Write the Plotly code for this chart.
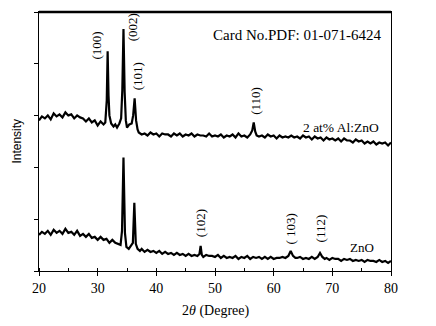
import plotly.graph_objects as go

# ---- data (2theta in degrees, intensity in arbitrary units) ----
al_2theta = [20.0, 20.5, 21.0, 21.5, 22.0, 22.5, 23.0, 23.5, 24.0, 24.5, 25.0, 25.5, 26.0, 26.5,
             27.0, 27.5, 28.0, 28.5, 29.0, 29.5, 30.0, 30.5, 31.0, 31.3, 31.55, 31.7, 31.85, 32.0,
             32.3, 32.7, 33.0, 33.3, 33.7, 34.0, 34.2, 34.4, 34.6, 34.8, 35.0, 35.4, 35.8, 36.05,
             36.3, 36.55, 36.8, 37.0, 37.5, 38.0, 38.5, 39.0, 39.5, 40.0, 40.5, 41.0, 41.5, 42.0,
             42.5, 43.0, 43.5, 44.0, 44.5, 45.0, 45.5, 46.0, 46.5, 47.0, 47.5, 48.0, 48.5, 49.0,
             49.5, 50.0, 50.5, 51.0, 51.5, 52.0, 52.5, 53.0, 53.5, 54.0, 54.5, 55.0, 55.5, 56.0,
             56.35, 56.6, 56.85, 57.1, 57.5, 58.0, 58.5, 59.0, 59.5, 60.0, 60.5, 61.0, 61.5, 62.0,
             62.5, 63.0, 63.5, 64.0, 64.5, 65.0, 65.5, 66.0, 66.5, 67.0, 67.5, 68.0, 68.5, 69.0,
             69.5, 70.0, 70.5, 71.0, 71.5, 72.0, 72.5, 73.0, 73.5, 74.0, 74.5, 75.0, 75.5, 76.0,
             76.5, 77.0, 77.5, 78.0, 78.5, 79.0, 79.5, 80.0]
al_intensity = [150, 154, 152, 155, 151, 157, 154, 156, 153, 158, 155, 156, 152, 155,
                153, 152, 149, 152, 148, 150, 145, 149, 146, 148, 170, 219, 175, 155,
                147, 144, 146, 143, 147, 152, 180, 241, 178, 150, 143, 146, 147, 155,
                172, 150, 141, 138, 136, 137, 135, 138, 136, 137, 134, 137, 136, 136,
                134, 137, 135, 137, 134, 136, 135, 137, 134, 136, 135, 135, 134, 137,
                134, 135, 134, 136, 133, 135, 134, 136, 133, 137, 134, 135, 133, 136,
                140, 148, 139, 135, 134, 135, 133, 136, 134, 135, 132, 135, 133, 134,
                133, 135, 133, 134, 132, 135, 133, 134, 131, 134, 132, 133, 130, 133,
                131, 132, 130, 132, 129, 132, 130, 130, 128, 131, 129, 130, 127, 129,
                127, 129, 126, 128, 127, 128, 125, 128]

zno_2theta = [20.0, 20.5, 21.0, 21.5, 22.0, 22.5, 23.0, 23.5, 24.0, 24.5, 25.0, 25.5, 26.0, 26.5,
              27.0, 27.5, 28.0, 28.5, 29.0, 29.5, 30.0, 30.5, 31.0, 31.5, 32.0, 32.5, 33.0, 33.5,
              33.9, 34.15, 34.4, 34.65, 34.9, 35.3, 35.7, 36.0, 36.25, 36.5, 36.8, 37.2, 37.5, 38.0,
              38.5, 39.0, 39.5, 40.0, 40.5, 41.0, 41.5, 42.0, 42.5, 43.0, 43.5, 44.0, 44.5, 45.0,
              45.5, 46.0, 46.5, 47.0, 47.35, 47.55, 47.75, 48.0, 48.5, 49.0, 49.5, 50.0, 50.5, 51.0,
              51.5, 52.0, 52.5, 53.0, 53.5, 54.0, 54.5, 55.0, 55.5, 56.0, 56.5, 57.0, 57.5, 58.0,
              58.5, 59.0, 59.5, 60.0, 60.5, 61.0, 61.5, 62.0, 62.5, 62.9, 63.3, 63.7, 64.0, 64.5,
              65.0, 65.5, 66.0, 66.5, 67.0, 67.5, 67.9, 68.3, 68.7, 69.0, 69.5, 70.0, 70.5, 71.0,
              71.5, 72.0, 72.5, 73.0, 73.5, 74.0, 74.5, 75.0, 75.5, 76.0, 76.5, 77.0, 77.5, 78.0,
              78.5, 79.0, 79.5, 80.0]
zno_intensity = [36, 39, 37, 40, 36, 41, 38, 40, 37, 42, 38, 39, 36, 40,
                 35, 37, 34, 37, 33, 34, 31, 34, 31, 32, 28, 31, 28, 27,
                 26, 40, 113, 38, 24, 22, 25, 28, 68, 27, 22, 20, 22, 19,
                 21, 19, 20, 18, 20, 17, 19, 17, 18, 16, 18, 16, 17, 15,
                 17, 15, 16, 15, 17, 25, 16, 14, 16, 15, 15, 14, 16, 13,
                 15, 13, 14, 13, 15, 12, 14, 13, 15, 12, 14, 13, 14, 12,
                 14, 12, 14, 12, 13, 13, 14, 13, 15, 20, 15, 13, 13, 14,
                 12, 13, 12, 14, 12, 14, 18, 14, 12, 13, 11, 13, 12, 12,
                 10, 12, 11, 12, 10, 11, 10, 11, 9, 11, 10, 10, 9, 11,
                 9, 10, 8, 10]

peak_labels = ["(100)", "(002)", "(101)", "(110)", "(102)", "( 103)", "(112)"]
peak_label_x = [29.8, 35.9, 36.7, 56.9, 47.5, 62.9, 68.0]
peak_label_y = [225, 243, 194, 170, 48, 42, 42]

x_ticks = [20, 30, 40, 50, 60, 70, 80]

SERIF = "Liberation Serif, Times New Roman, serif"

fig = go.Figure()
fig.add_trace(go.Scatter(x=al_2theta, y=al_intensity, mode="lines",
                         line=dict(color="black", width=2.2), name="2 at% Al:ZnO",
                         showlegend=False))
fig.add_trace(go.Scatter(x=zno_2theta, y=zno_intensity, mode="lines",
                         line=dict(color="black", width=2.2), name="ZnO",
                         showlegend=False))

for t, x, y in zip(peak_labels, peak_label_x, peak_label_y):
    fig.add_annotation(x=x, y=y, text=t, textangle=-90, showarrow=False,
                       font=dict(family=SERIF, size=13, color="black"))

fig.add_annotation(x=63.9, y=235, text="Card No.PDF: 01-071-6424", showarrow=False,
                   font=dict(family=SERIF, size=15, color="black"))
fig.add_annotation(x=71.4, y=143, text="2 at% Al:ZnO", showarrow=False,
                   font=dict(family=SERIF, size=13.5, color="black"))
fig.add_annotation(x=75.0, y=23, text="ZnO", showarrow=False,
                   font=dict(family=SERIF, size=13, color="black"))

# x-axis title
fig.add_annotation(xref="paper", yref="paper", x=0.5, y=-0.155, yanchor="middle",
                   text="2<i>θ</i> (Degree)", showarrow=False,
                   font=dict(family=SERIF, size=14, color="black"))
# y-axis title
fig.add_annotation(xref="paper", yref="paper", x=-0.065, xanchor="center", y=0.5,
                   yanchor="middle", text="Intensity", textangle=-90, showarrow=False,
                   font=dict(family="Liberation Sans, Arial, sans-serif", size=12, color="black"))

# thicker top frame
fig.add_shape(type="line", xref="paper", yref="paper", x0=0, x1=1, y0=1, y1=1,
              line=dict(color="black", width=2.5))

# page body has an 8px default margin, so the figure is sized/offset to compensate
fig.update_layout(
    width=428, height=318,
    margin=dict(l=31, r=45, t=4, b=55),
    paper_bgcolor="white", plot_bgcolor="white",
    font=dict(family=SERIF, size=13, color="black"),
    xaxis=dict(range=[20, 80], tickvals=x_ticks, ticks="outside", ticklen=4,
               tickcolor="black", showline=True, linecolor="black", linewidth=1,
               mirror=True, showgrid=False, zeroline=False,
               tickfont=dict(family=SERIF, size=14, color="black"),
               minor=dict(dtick=5, ticks="inside", ticklen=3, tickcolor="black")),
    yaxis=dict(range=[0, 258], dtick=51.6, ticks="outside", ticklen=4,
               tickcolor="black", showline=True, linecolor="black", linewidth=1,
               mirror=True, showgrid=False, zeroline=False, showticklabels=False),
)

fig.write_html("out.html")
